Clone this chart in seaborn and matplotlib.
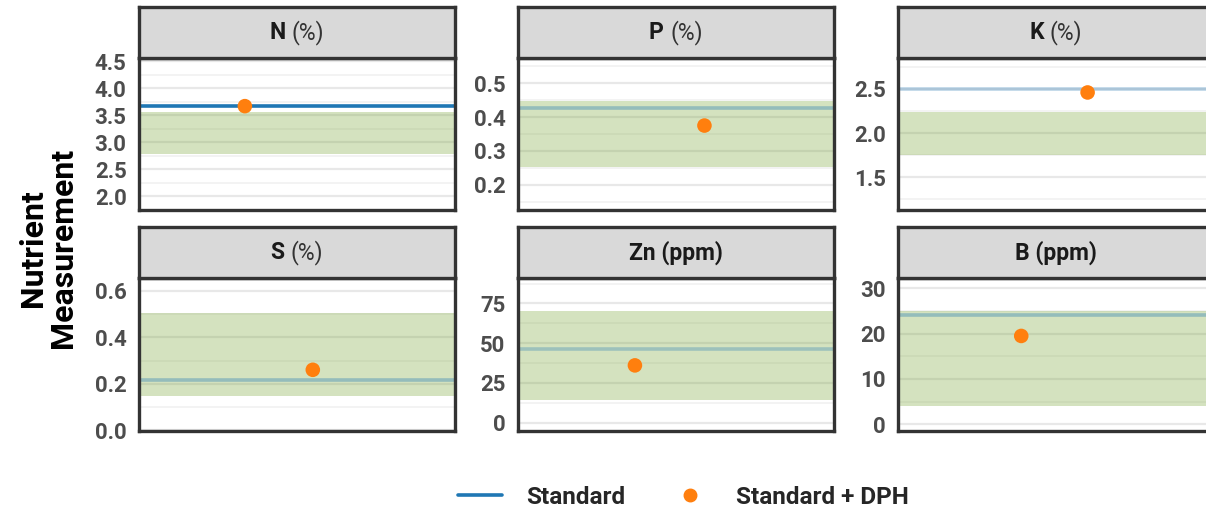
import numpy as np
import matplotlib
matplotlib.use("Agg")
import matplotlib.pyplot as plt
from matplotlib.lines import Line2D
import seaborn as sns

# ------------------------------------------------------------
# data
# ------------------------------------------------------------
nutrients = ["N", "P", "K", "S", "Zn", "B"]
units = ["(%)", "(%)", "(%)", "(%)", "(ppm)", "(ppm)"]
standard = [3.68, 0.427, 2.50, 0.217, 46.0, 24.2]
dph_value = [3.67, 0.375, 2.46, 0.26, 36.0, 19.5]
dph_xpos = [0.335, 0.59, 0.60, 0.55, 0.37, 0.39]
range_low = [2.79, 0.252, 1.75, 0.145, 14.5, 4.0]
range_high = [3.56, 0.448, 2.24, 0.505, 70.3, 24.9]
y_ticks = [
    [2.0, 2.5, 3.0, 3.5, 4.0, 4.5],
    [0.2, 0.3, 0.4, 0.5],
    [1.5, 2.0, 2.5],
    [0.0, 0.2, 0.4, 0.6],
    [0, 25, 50, 75],
    [0, 10, 20, 30],
]
tick_labels = [
    ["2.0", "2.5", "3.0", "3.5", "4.0", "4.5"],
    ["0.2", "0.3", "0.4", "0.5"],
    ["1.5", "2.0", "2.5"],
    ["0.0", "0.2", "0.4", "0.6"],
    ["0", "25", "50", "75"],
    ["0", "10", "20", "30"],
]
y_limits = [(1.75, 4.56), (0.125, 0.575), (1.13, 2.85),
            (-0.004, 0.656), (-5.3, 91), (-1.5, 32.3)]
line_alpha = [1.0, 0.35, 0.3, 0.35, 0.3, 0.35]

BLUE = "#1f77b4"
ORANGE = "#ff7f0e"
BAND = "#7aa63a"

sns.set_style("white")
plt.rcParams["font.family"] = ["Roboto", "DejaVu Sans"]

W, H = 1206, 511
fig = plt.figure(figsize=(W / 100, H / 100), dpi=100)

col_x = [139, 518, 898]
panel_w = 316
row_strip = [(7, 58), (227, 278)]
row_plot = [(58, 210), (278, 431)]


def fig_box(x0, y0, x1, y1):
    return [x0 / W, 1 - y1 / H, (x1 - x0) / W, (y1 - y0) / H]


strip_texts = []
for i, name in enumerate(nutrients):
    r, c = divmod(i, 3)
    x0 = col_x[c]
    ax = fig.add_axes(fig_box(x0, row_plot[r][0], x0 + panel_w, row_plot[r][1]))

    ax.axhspan(range_low[i], range_high[i], color=BAND, alpha=0.32, lw=0, zorder=1)
    ax.axhline(standard[i], color=BLUE, lw=2.6, alpha=line_alpha[i], zorder=2)
    sns.scatterplot(x=[dph_xpos[i]], y=[dph_value[i]], ax=ax, color=ORANGE,
                    s=110, edgecolor="none", zorder=3, legend=False)

    ticks = y_ticks[i]
    step = ticks[1] - ticks[0]
    minor = [t + step / 2 for t in [ticks[0] - step] + ticks]
    ax.set_yticks(ticks)
    ax.set_yticklabels(tick_labels[i])
    ax.set_yticks(minor, minor=True)
    ax.set_xticks([])
    ax.set_xlim(0, 1)
    ax.set_ylim(*y_limits[i])
    ax.grid(axis="y", which="major", color="#e8e8e8", lw=1.6, zorder=0)
    ax.grid(axis="y", which="minor", color="#f0f0f0", lw=1.1, zorder=0)
    ax.tick_params(axis="y", which="both", length=0, pad=9,
                   labelsize=16, labelcolor="#4d4d4d")
    for lab in ax.get_yticklabels():
        lab.set_fontweight("bold")
    ax.set_xlabel("")
    ax.set_ylabel("")
    for sp in ax.spines.values():
        sp.set_color("#333333")
        sp.set_linewidth(2.4)

    # facet strip
    sax = fig.add_axes(fig_box(x0, row_strip[r][0], x0 + panel_w, row_strip[r][1]))
    sax.set_facecolor("#d9d9d9")
    sax.set_xticks([])
    sax.set_yticks([])
    for sp in sax.spines.values():
        sp.set_color("#333333")
        sp.set_linewidth(2.4)
    if units[i] == "(%)":
        t1 = sax.text(0.5, 0.5, name + " ", ha="left", va="center",
                      fontsize=16.5, fontweight="bold", color="#1a1a1a")
        t2 = sax.text(0.5, 0.5, units[i], ha="left", va="center",
                      fontsize=16.5, color="#333333")
        strip_texts.append((sax, t1, t2))
    else:
        sax.text(0.5, 0.5, f"{name} {units[i]}", ha="center", va="center",
                 fontsize=16.5, fontweight="bold", color="#1a1a1a")

# centre the two-part strip labels
fig.canvas.draw()
rend = fig.canvas.get_renderer()
for sax, t1, t2 in strip_texts:
    w1 = t1.get_window_extent(rend).width
    w2 = t2.get_window_extent(rend).width
    aw = sax.get_window_extent(rend).width
    start = 0.5 - (w1 + w2) / 2 / aw
    t1.set_x(start)
    t2.set_x(start + w1 / aw)

fig.text(0.040, 0.515, "Nutrient\nMeasurement", rotation=90, ha="center",
         va="center", fontsize=23, fontweight="bold", color="black",
         linespacing=1.0)

handles = [
    Line2D([0], [0], color=BLUE, lw=2.6),
    Line2D([0], [0], color=ORANGE, marker="o", lw=0, markersize=9),
]
fig.legend(handles, ["Standard", "Standard + DPH"], loc="center",
           bbox_to_anchor=(0.567, 0.027), ncol=2, frameon=False,
           prop={"size": 17.5, "weight": "bold"}, handlelength=1.8,
           handletextpad=1.0, columnspacing=1.75)

fig.savefig("out.png", dpi=100)
